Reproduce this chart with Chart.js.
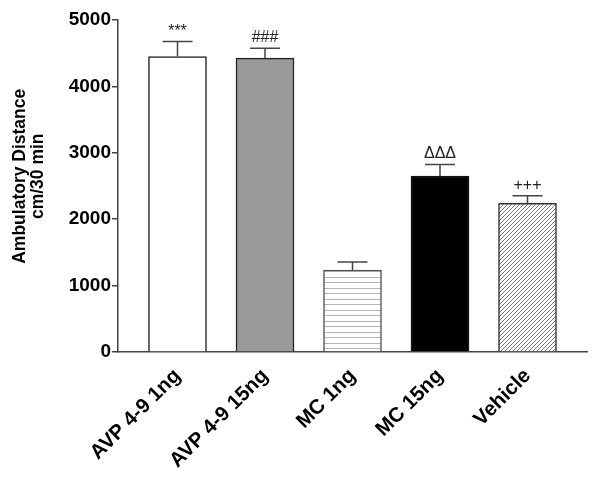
<!DOCTYPE html>
<html>
<head>
<meta charset="utf-8">
<title>Ambulatory distance</title>
<script src="https://cdn.jsdelivr.net/npm/chart.js@4.4.1/dist/chart.umd.min.js"></script>
<style>
  html, body { margin: 0; padding: 0; background: #fff; }
  #chart { display: block; }
</style>
</head>
<body>
<canvas id="chart" width="600" height="479"></canvas>
<script>
// values (cm / 30 min, mean and upper SEM)
const groups = ["AVP 4-9 1ng", "AVP 4-9 15ng", "MC 1ng", "MC 15ng", "Vehicle"];
const meanDistance = [4450, 4425, 1235, 2650, 2240];
const semDistance = [225, 150, 120, 175, 115];
const significance = ["***", "###", "", "ΔΔΔ", "+++"];
const yTicks = [0, 1000, 2000, 3000, 4000, 5000];

const FONT = "'Liberation Sans', Arial, Helvetica, sans-serif";

// hatch fills for the MC 1ng and vehicle bars
function horizontalLines() {
    const c = document.createElement("canvas");
    c.width = 8;
    c.height = 11;
    const g = c.getContext("2d");
    g.fillStyle = "#fff";
    g.fillRect(0, 0, 8, 11);
    g.fillStyle = "#b4b4b4";
    g.fillRect(0, 2, 8, 1);
    g.fillRect(0, 7, 8, 1);
    return g.createPattern(c, "repeat");
}

function diagonalLines() {
    const c = document.createElement("canvas");
    c.width = 4;
    c.height = 4;
    const g = c.getContext("2d");
    g.fillStyle = "#fff";
    g.fillRect(0, 0, 4, 4);
    g.strokeStyle = "#666";
    g.lineWidth = 0.9;
    g.beginPath();
    g.moveTo(0, 4); g.lineTo(4, 0);
    g.moveTo(-1, 1); g.lineTo(1, -1);
    g.moveTo(3, 5); g.lineTo(5, 3);
    g.stroke();
    return g.createPattern(c, "repeat");
}

const errorBars = {
    id: "errorBars",
    afterDatasetsDraw(chart) {
        const ctx = chart.ctx;
        const y = chart.scales.y;
        const meta = chart.getDatasetMeta(0);
        ctx.save();
        ctx.strokeStyle = "#444";
        ctx.lineWidth = 1.5;
        ctx.fillStyle = "#222";
        ctx.font = "16px " + FONT;
        ctx.textAlign = "center";
        meta.data.forEach((bar, i) => {
            const base = y.getPixelForValue(meanDistance[i]);
            const top = y.getPixelForValue(meanDistance[i] + semDistance[i]);
            ctx.beginPath();
            ctx.moveTo(bar.x, base);
            ctx.lineTo(bar.x, top);
            ctx.moveTo(bar.x - 15, top);
            ctx.lineTo(bar.x + 15, top);
            ctx.stroke();
            if (significance[i]) {
                ctx.fillText(significance[i], bar.x, top - 6);
            }
        });
        ctx.restore();
    }
};

const ctx = document.getElementById("chart").getContext("2d");

new Chart(ctx, {
    type: "bar",
    data: {
        datasets: [{
            data: groups.map((g, i) => ({ x: i, y: meanDistance[i] })),
            backgroundColor: ["#ffffff", "#999999", horizontalLines(), "#000000", diagonalLines()],
            borderColor: ["#222", "#222", "#555", "#111", "#333"],
            borderWidth: 1.5,
            barThickness: 58,
        }],
    },
    options: {
        responsive: false,
        animation: false,
        layout: { padding: { top: 20, right: 13, left: 11.5, bottom: 0 } },
        plugins: {
            legend: { display: false },
            tooltip: { enabled: false },
        },
        scales: {
            x: {
                type: "linear",
                offset: false,
                bounds: "data",
                min: -0.68,
                max: 4.68,
                afterBuildTicks: (scale) => {
                    scale.ticks = groups.map((g, i) => ({ value: i }));
                },
                afterFit: (scale) => {
                    scale.height = 127;
                },
                ticks: {
                    callback: (v) => groups[v],
                    autoSkip: false,
                    minRotation: 45,
                    maxRotation: 45,
                    padding: 4,
                    color: "#000",
                    font: { family: FONT, size: 20.5, weight: "bold" },
                },
                grid: { display: false },
                border: { color: "#444", width: 1.5 },
            },
            y: {
                min: 0,
                max: 5000,
                afterBuildTicks: (scale) => {
                    scale.ticks = yTicks.map((v) => ({ value: v }));
                },
                afterFit: (scale) => {
                    scale.width = 106.5;
                },
                ticks: {
                    callback: (v) => String(v),
                    padding: 1,
                    color: "#000",
                    font: { family: FONT, size: 19, weight: "bold" },
                },
                grid: {
                    drawOnChartArea: false,
                    drawTicks: true,
                    tickLength: 6,
                    color: "#444",
                    lineWidth: 1.5,
                },
                border: { color: "#444", width: 1.5 },
                title: {
                    display: true,
                    // leading spaces nudge the centred (rotated) title a little above mid-axis, as in the original
                    text: ["    Ambulatory Distance", "    cm/30 min"],
                    color: "#000",
                    font: { family: FONT, size: 17.5, weight: "bold", lineHeight: 1 },
                    padding: 0,
                },
            },
        },
    },
    plugins: [errorBars],
});
</script>
</body>
</html>
